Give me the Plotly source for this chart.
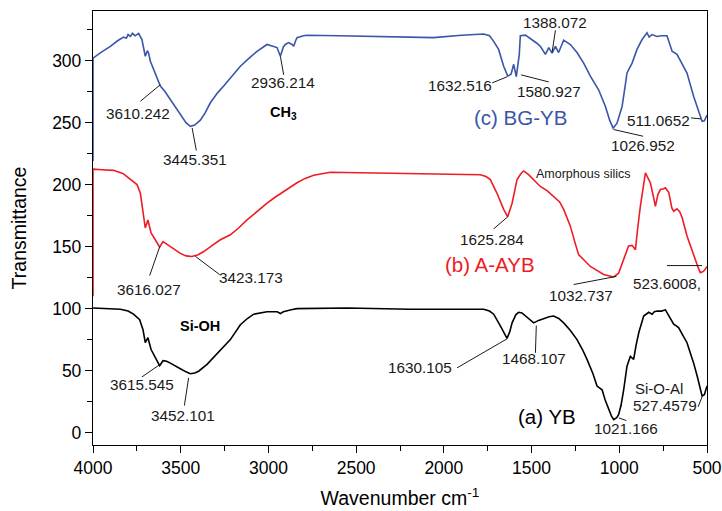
import plotly.graph_objects as go

# ---------------- data ----------------
wn_c = [4000, 4000, 3950, 3901, 3860, 3826, 3810, 3800, 3787, 3775, 3760, 3740, 3721, 3702, 3690, 3683, 3673,
        3654, 3635, 3616, 3590, 3559, 3530, 3502, 3470, 3445, 3420, 3388, 3360, 3331, 3290, 3255,
        3210, 3160, 3110, 3065, 3008, 2980, 2951, 2932, 2915, 2904, 2885, 2865, 2856, 2845, 2837,
        2800, 2780, 2600, 2400, 2174, 2058, 1900, 1773, 1740, 1716, 1688, 1659, 1636, 1617, 1602,
        1587, 1570, 1564, 1535, 1497, 1470, 1450, 1421, 1402, 1383, 1364, 1346, 1330, 1317, 1279,
        1241, 1203, 1165, 1118, 1079, 1055, 1035, 1013, 984, 965, 956, 927, 899, 870, 842,
        830, 813, 785, 760, 728, 715, 699, 671, 640, 614, 576, 550, 528, 515, 504, 500]
tr_c = [219, 302, 307, 311.5, 316, 319, 318, 321, 319.5, 322, 320, 322, 317, 303.5, 308, 306, 299.5,
        293, 285, 279.5, 275, 268.5, 262, 256.5, 250, 247, 248, 252, 258, 266, 274, 279.5,
        287, 295.5, 302, 307.5, 313, 312, 310.5, 303.5, 311, 313, 314.5, 313, 311.5, 316, 318.5,
        320, 320.5, 320, 319.5, 318.5, 318.5, 320.5, 321.5, 320, 315.5, 309, 295.5, 287.5, 289, 297,
        287, 305, 320, 320.5, 317, 314, 311.5, 305, 310.5, 306, 311.5, 306.5, 312, 316.5, 313,
        306.5, 298, 287.5, 276.5, 263, 252, 245.5, 249.5, 263, 281, 290, 298, 309, 317, 322.5,
        319, 321, 319.5, 320, 320, 314, 307.5, 305, 297, 290, 271, 260, 251, 251.5, 255, 256]

wn_b = [4000, 4000, 3950, 3883, 3830, 3787, 3749, 3730, 3715, 3702, 3687, 3669, 3645, 3620, 3601,
        3580, 3559, 3530, 3502, 3470, 3436, 3400, 3369, 3320, 3274, 3217, 3170, 3122, 3060, 3008,
        2960, 2913, 2870, 2837, 2790, 2742, 2647, 2457, 2191, 1950, 1792, 1760, 1735, 1697, 1659,
        1636, 1611, 1595, 1583, 1560, 1545, 1517, 1480, 1450, 1410, 1374, 1340, 1317, 1279, 1250,
        1232, 1200, 1165, 1130, 1089, 1060, 1032, 1004, 975, 947, 927, 908, 895, 880, 851,
        837, 823, 808, 794, 780, 766, 750, 737, 718, 700, 690, 671, 655, 642, 614,
        576, 550, 538, 520, 504, 500]
tr_b = [110, 212.5, 212, 211.5, 209, 204, 200, 193, 180, 165, 171.5, 161, 155.5, 149.5, 154,
        152, 150, 147.5, 144.5, 142.5, 142, 143.5, 146, 151, 155.5, 159.5, 165, 171.5, 179, 185,
        190, 194.5, 198.5, 201.5, 205, 207.5, 210, 209.5, 209, 208.5, 208, 206.5, 204, 193, 180,
        174, 185, 196, 204, 209, 211, 208, 203, 198.5, 195, 190.5, 186, 180, 166.5, 152,
        143.5, 139, 134, 131, 127.5, 126.5, 125.5, 128.5, 139.5, 150.5, 151, 147.5, 165, 182.5, 209.5,
        205, 201.5, 192, 182.5, 192, 196, 196.5, 197.5, 193.5, 181, 178.5, 180.5, 178, 173.5, 158.5,
        142.5, 133, 129, 130, 133, 134]

wn_a = [4000, 3900, 3844, 3800, 3769, 3734, 3715, 3702, 3687, 3669, 3645, 3620, 3601, 3580, 3559,
        3530, 3502, 3470, 3445, 3420, 3398, 3350, 3310, 3274, 3217, 3160, 3120, 3084, 3040, 3008,
        2950, 2932, 2915, 2904, 2870, 2837, 2552, 2191, 1950, 1773, 1740, 1716, 1678, 1655, 1640,
        1625, 1611, 1590, 1574, 1555, 1535, 1510, 1488, 1460, 1431, 1400, 1374, 1345, 1317, 1280,
        1241, 1210, 1184, 1150, 1127, 1110, 1098, 1080, 1060, 1045, 1032, 1015, 1004, 990, 975,
        956, 937, 918, 905, 889, 861, 845, 832, 813, 800, 785, 760, 737, 718, 690,
        675, 661, 640, 614, 590, 576, 555, 540, 528, 515, 504, 500]
tr_a = [100.5, 100, 99.5, 98, 95.5, 91, 83, 72.5, 76.5, 67, 60.5, 54, 58, 57.5, 56,
        54, 51.5, 49, 47.5, 48, 49.5, 55, 61, 67, 75, 87, 92, 95.5, 97, 97.5,
        97.5, 96, 97.5, 98, 99, 100, 100.5, 99.5, 99.5, 99.5, 98, 95.5, 86, 80, 76,
        81, 88.5, 95, 97, 96.5, 94, 91, 88.5, 90.5, 92, 93.5, 94, 92, 88.5, 82.5,
        75, 67, 59, 47.5, 37.5, 36, 34.5, 26, 18.5, 13.5, 10.5, 12, 14.5, 22, 34.5,
        53.5, 61.5, 59, 70, 80.5, 94, 95.5, 97, 95.5, 97.5, 98, 98, 99, 94, 87.5,
        86, 84.5, 79, 72.5, 62, 56, 45, 36, 29.5, 30.5, 36, 37.5]

x_ticks = [4000, 3500, 3000, 2500, 2000, 1500, 1000, 500]
y_ticks = [0, 50, 100, 150, 200, 250, 300]

series = [
    ("(a) YB", wn_a, tr_a, "#000000"),
    ("(b) A-AYB", wn_b, tr_b, "#EE1C24"),
    ("(c) BG-YB", wn_c, tr_c, "#3A56A8"),
]

# peak labels: text, label position, leader line (from -> to)
peak_labels = [
    ("3610.242", 3742, 257.5, (3730, 267.2), (3616, 280.6)),
    ("3445.351", 3420, 220.2, (3435, 245.7), (3411, 227.5)),
    ("2936.214", 2918, 282.0, (2932, 303.5), (2913, 288.5)),
    ("1632.516", 1909, 280.0, (1725, 282.0), (1640, 286.9)),
    ("1580.927", 1400, 275.3, (1560, 288.5), (1402, 282.8)),
    ("1388.072", 1364, 331.0, (1364, 324.4), (1383, 306.7)),
    ("511.0652", 775, 252.0, (591, 253.8), (534, 253.0)),
    ("1026.952", 864, 231.6, (1032, 244.4), (864, 239.0)),
    ("1625.284", 1727, 156.0, (1716, 164.3), (1636, 174.0)),
    ("1032.737", 1219, 110.6, (1260, 119.4), (1016, 126.0)),
    ("523.6008,", 726, 120.0, (728, 134.7), (528, 134.7)),
    ("3616.027", 3683, 115.1, (3677, 126.6), (3620, 149.8)),
    ("3423.173", 3097, 124.7, (3417, 142.2), (3278, 127.4)),
    ("3615.545", 3718, 38.7, (3721, 44.9), (3620, 54.8)),
    ("3452.101", 3489, 13.9, (3479, 21.8), (3455, 44.1)),
    ("1630.105", 2137, 52.2, (1925, 52.2), (1640, 75.6)),
    ("1468.107", 1488, 59.5, (1478, 64.3), (1473, 86.3)),
    ("527.4579", 742, 21.9, (551, 20.7), (528, 28.8)),
    ("1021.166", 961, 3.1, (1003, 11.9), (960, 9.7)),
]
group_labels = [("CH<sub>3</sub>", 2913, 257.8), ("Si-OH", 3390, 86.1)]
note_labels = [("Amorphous silics", 1205, 208.3, 12.5), ("Si-O-Al", 775, 35.7, 15)]
series_label_pos = {"(a) YB": (1412, 13.1), "(b) A-AYB": (1735, 135.2), "(c) BG-YB": (1561, 254.0)}

FONT = "Liberation Sans, Arial, sans-serif"

fig = go.Figure()
for name, xs, ys, col in series:
    fig.add_trace(go.Scatter(x=xs, y=ys, mode="lines", name=name,
                             line=dict(color=col, width=1.6), showlegend=False))

annotations = []
shapes = []
for text, lx, ly, p0, p1 in peak_labels:
    annotations.append(dict(x=lx, y=ly, xref="x", yref="y", text=text, showarrow=False,
                            font=dict(size=15.3, color="#1a1a1a", family=FONT)))
    shapes.append(dict(type="line", xref="x", yref="y", x0=p0[0], y0=p0[1], x1=p1[0], y1=p1[1],
                       line=dict(color="#1a1a1a", width=1)))
for text, lx, ly in group_labels:
    annotations.append(dict(x=lx, y=ly, xref="x", yref="y", text="<b>" + text + "</b>",
                            showarrow=False, font=dict(size=14.5, color="#000000", family=FONT)))
for text, lx, ly, sz in note_labels:
    annotations.append(dict(x=lx, y=ly, xref="x", yref="y", text=text, showarrow=False,
                            font=dict(size=sz, color="#1a1a1a", family=FONT)))
for name, xs, ys, col in series:
    lx, ly = series_label_pos[name]
    annotations.append(dict(x=lx, y=ly, xref="x", yref="y", text=name, showarrow=False,
                            font=dict(size=20.5, color=col, family=FONT)))

axis_common = dict(showline=True, mirror=True, linecolor="#000000", linewidth=1.3,
                   showgrid=False, zeroline=False, ticks="outside", ticklen=7, tickwidth=1.2,
                   tickcolor="#000000", automargin=False,
                   tickfont=dict(size=17.5, color="#000000", family=FONT))

fig.update_layout(
    width=722, height=511,
    margin=dict(l=93, r=15, t=11, b=66),
    paper_bgcolor="white", plot_bgcolor="white",
    font=dict(family=FONT, color="#000000"),
    xaxis=dict(range=[4000, 500], tickvals=x_ticks, ticktext=[str(v) for v in x_ticks],
               minor=dict(ticks="outside", ticklen=5, tickwidth=1.2, tickcolor="#000000",
                          dtick=250, tick0=0),
               title=dict(text="Wavenumber cm<sup>-1</sup>", standoff=14,
                          font=dict(size=19.5, family=FONT, color="#000000")),
               **axis_common),
    yaxis=dict(range=[-10, 340], tickvals=y_ticks, ticktext=[str(v) for v in y_ticks],
               minor=dict(ticks="outside", ticklen=5, tickwidth=1.2, tickcolor="#000000",
                          dtick=25, tick0=0),
               title=dict(text="Transmittance", standoff=20,
                          font=dict(size=19.5, family=FONT, color="#000000")),
               **axis_common),
    annotations=annotations,
    shapes=shapes,
)

fig.write_html("out.html")
